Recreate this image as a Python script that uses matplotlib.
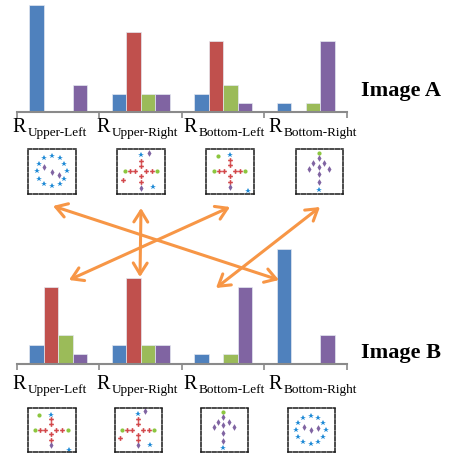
import matplotlib
matplotlib.use('Agg')
import matplotlib.pyplot as plt
from matplotlib.patches import FancyArrowPatch
import numpy as np

W, H = 452, 454
fig = plt.figure(figsize=(W / 100, H / 100), dpi=100)
plt.rcParams['font.family'] = 'Liberation Serif'

regions = ['Upper-Left', 'Upper-Right', 'Bottom-Left', 'Bottom-Right']
bar_colors = ['#4F81BD', '#C0504D', '#9BBB59', '#8064A2']

# counts of points per region (blue star, red plus, green dot, purple diamond)
a_blue = [12, 2, 2, 1]
a_red = [0, 9, 8, 0]
a_green = [0, 2, 3, 1]
a_purple = [3, 2, 1, 8]

b_blue = [2, 2, 1, 12]
b_red = [8, 9, 0, 0]
b_green = [3, 2, 1, 0]
b_purple = [1, 2, 8, 3]

# thumbnail point positions (u, v) inside each box, v measured from the top
thumbs_a = [
    {'star': [(0.5, 0.15), (0.66, 0.20), (0.76, 0.33), (0.81, 0.48), (0.76, 0.66), (0.66, 0.78),
              (0.5, 0.83), (0.34, 0.78), (0.23, 0.66), (0.18, 0.48), (0.23, 0.33), (0.34, 0.20)],
     'diamond': [(0.34, 0.41), (0.5, 0.51), (0.64, 0.57)]},
    {'star': [(0.51, 0.14), (0.76, 0.85)],
     'diamond': [(0.66, 0.08), (0.5, 0.86)],
     'plus': [(0.5, 0.26), (0.5, 0.38), (0.27, 0.49), (0.38, 0.49), (0.61, 0.49), (0.73, 0.49),
              (0.13, 0.69), (0.5, 0.61), (0.5, 0.74)],
     'dot': [(0.17, 0.49), (0.84, 0.49)]},
    {'dot': [(0.25, 0.15), (0.16, 0.49), (0.82, 0.49)],
     'star': [(0.5, 0.14), (0.87, 0.93)],
     'plus': [(0.5, 0.24), (0.5, 0.36), (0.27, 0.49), (0.37, 0.49), (0.61, 0.49), (0.71, 0.49),
              (0.5, 0.61), (0.5, 0.73)],
     'diamond': [(0.5, 0.84)]},
    {'dot': [(0.48, 0.08)],
     'diamond': [(0.48, 0.21), (0.37, 0.32), (0.59, 0.32), (0.48, 0.39), (0.27, 0.44), (0.71, 0.44),
                 (0.48, 0.56), (0.48, 0.74)],
     'star': [(0.48, 0.91)]},
]
thumbs_b = [
    {'dot': [(0.22, 0.15), (0.15, 0.49), (0.83, 0.49)],
     'star': [(0.47, 0.15), (0.86, 0.95)],
     'plus': [(0.47, 0.26), (0.47, 0.37), (0.25, 0.49), (0.36, 0.49), (0.59, 0.49), (0.71, 0.49),
              (0.47, 0.60), (0.47, 0.72)],
     'diamond': [(0.47, 0.85)]},
    {'star': [(0.48, 0.14), (0.74, 0.84)],
     'diamond': [(0.63, 0.07), (0.48, 0.85)],
     'plus': [(0.48, 0.26), (0.48, 0.37), (0.26, 0.49), (0.37, 0.49), (0.60, 0.49), (0.72, 0.49),
              (0.11, 0.69), (0.48, 0.61), (0.48, 0.73)],
     'dot': [(0.15, 0.49), (0.83, 0.49)]},
    {'dot': [(0.47, 0.08)],
     'diamond': [(0.47, 0.21), (0.37, 0.31), (0.59, 0.31), (0.47, 0.39), (0.27, 0.44), (0.71, 0.44),
                 (0.47, 0.56), (0.47, 0.75)],
     'star': [(0.47, 0.91)]},
    {'star': [(0.48, 0.18), (0.64, 0.23), (0.75, 0.33), (0.81, 0.49), (0.75, 0.66), (0.64, 0.77),
              (0.48, 0.82), (0.31, 0.77), (0.21, 0.66), (0.16, 0.49), (0.21, 0.33), (0.31, 0.23)],
     'diamond': [(0.34, 0.43), (0.49, 0.50), (0.64, 0.45)]},
]

# arrows between matching regions (pixel coords x1, y1, x2, y2)
arrows = [(53, 206, 279, 280), (69, 280, 230, 207), (141, 208, 140, 277), (320, 207, 216, 288)]

marker_style = {
    'star': dict(marker='*', color='#1F8AD6', ms=4),
    'plus': dict(marker='P', color='#D2474A', ms=3.4),
    'dot': dict(marker='o', color='#8CC63F', ms=3),
    'diamond': dict(marker='d', color='#8064A2', ms=3.4),
}


def frac(x0, y0, w, h):
    # pixel box with top-left origin -> figure fraction rect
    return [x0 / W, 1 - (y0 + h) / H, w / W, h / H]


def bar_panel(rect, series):
    ax = fig.add_axes(rect)
    x = np.arange(len(regions))
    w = 0.176
    for k, (vals, c) in enumerate(zip(series, bar_colors)):
        ax.bar(x + (k - 1.5) * w, vals, w, color=c, edgecolor='#e4e8f0', linewidth=0.5)
    ax.set_xlim(-0.5, 3.5)
    ax.set_ylim(0, 12)
    for s in ['top', 'right', 'left']:
        ax.spines[s].set_visible(False)
    ax.spines['bottom'].set_color('#8a8a8a')
    ax.spines['bottom'].set_linewidth(1.5)
    ax.set_xticks([-0.5, 0.5, 1.5, 2.5, 3.5])
    ax.set_xticklabels([])
    ax.tick_params(axis='x', length=4, width=1.2, color='#8a8a8a', direction='out')
    ax.set_yticks([])
    ax.patch.set_visible(False)
    return ax


def thumb(box, pts):
    ax = fig.add_axes(frac(*box))
    for kind, xy in pts.items():
        u = [p[0] for p in xy]
        v = [p[1] for p in xy]
        st = marker_style[kind]
        ax.plot(u, v, linestyle='none', marker=st['marker'], color=st['color'],
                ms=st['ms'], mew=0)
    ax.set_xlim(0, 1)
    ax.set_ylim(1, 0)
    ax.set_xticks([])
    ax.set_yticks([])
    for s in ax.spines.values():
        s.set_linestyle((0, (2.5, 1.2)))
        s.set_linewidth(1.1)
        s.set_color('#1a1a1a')


bar_panel(frac(17, 5, 330, 107), [a_blue, a_red, a_green, a_purple])
bar_panel(frac(17, 249, 330, 115), [b_blue, b_red, b_green, b_purple])

# region labels: R with subscript
label_x = [12, 96, 183, 268]
for lx, name in zip(label_x, regions):
    for base in (132, 389):
        fig.text(lx / W, 1 - base / H, 'R', fontsize=14.5, ha='left', va='baseline')
        fig.text((lx + 16) / W, 1 - (base + 4) / H, name, fontsize=9.5, ha='left', va='baseline')

fig.text(361 / W, 1 - 96 / H, 'Image A', fontsize=16, fontweight='bold', ha='left', va='baseline')
fig.text(361 / W, 1 - 358 / H, 'Image B', fontsize=16, fontweight='bold', ha='left', va='baseline')

boxes_a = [(28, 149, 48, 45), (117, 149, 48, 45), (206, 149, 48, 45), (296, 149, 47, 45)]
boxes_b = [(28, 408, 48, 44), (115, 408, 47, 44), (201, 408, 47, 44), (288, 408, 47, 44)]
for box, pts in zip(boxes_a, thumbs_a):
    thumb(box, pts)
for box, pts in zip(boxes_b, thumbs_b):
    thumb(box, pts)

over = fig.add_axes([0, 0, 1, 1], zorder=10)
over.set_xlim(0, W)
over.set_ylim(H, 0)
over.axis('off')
for x1, y1, x2, y2 in arrows:
    over.add_patch(FancyArrowPatch((x1, y1), (x2, y2), arrowstyle='<->,head_length=0.8,head_width=0.5',
                                   mutation_scale=10, color='#F79646', lw=2.2,
                                   shrinkA=0, shrinkB=0))

fig.savefig('out.png', dpi=100)
